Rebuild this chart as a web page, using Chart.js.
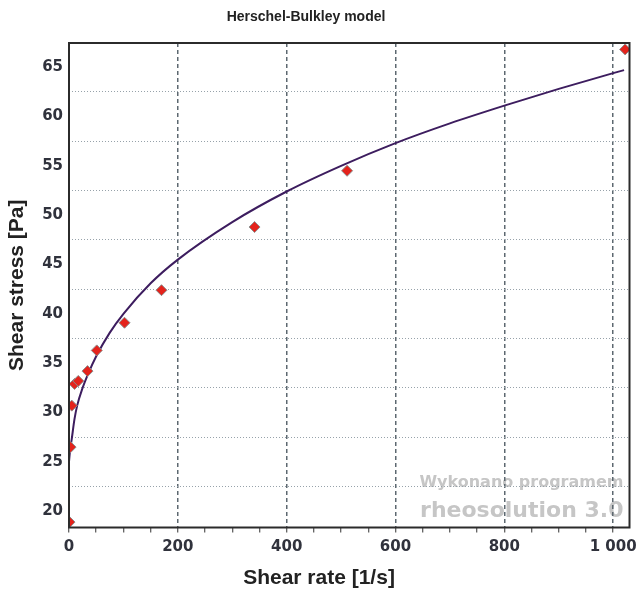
<!DOCTYPE html>
<html lang="en">
<head>
<meta charset="UTF-8">
<title>Herschel-Bulkley model</title>
<script src="https://cdn.jsdelivr.net/npm/chart.js@4.4.0/dist/chart.umd.min.js"></script>
<style>
  body { margin: 0; background: #fff; }
  #wrap { width: 636px; height: 591px; }
</style>
</head>
<body>
<div id="wrap"><canvas id="hbChart" width="636" height="591"></canvas></div>
<script>
// measured points: shear rate [1/s] vs shear stress [Pa]
const shearRate   = [1, 3, 5.1, 10.2, 17, 34, 51, 102, 170, 341, 511, 1022];
const shearStress = [18.9, 26.5, 30.7, 32.9, 33.2, 34.2, 36.3, 39.1, 42.4, 48.8, 54.5, 66.8];

// fitted Herschel-Bulkley curve
const modelRate   = [0, 2, 5, 10, 15, 25, 35, 50, 75, 100, 150, 200, 300, 400, 500, 600, 700, 800, 900, 1000, 1020];
const modelStress = [25.0, 26.2, 27.3, 29.3, 30.7, 32.5, 33.9, 35.7, 38.1, 40.0, 43.1, 45.5, 49.3, 52.4, 55.0, 57.3, 59.3, 61.1, 62.8, 64.4, 64.7];

const xTicks = [0, 200, 400, 600, 800, 1000];
const yTicks = [20, 25, 30, 35, 40, 45, 50, 55, 60, 65];

const labelColor = '#30323c';
const tickFont = { family: '"DejaVu Sans", Verdana, sans-serif', size: 15, weight: 'bold' };

// minor x ticks every 50, dotted y grid half way between labels
const xMinor = [];
for (let v = xTicks[0]; v <= xTicks[xTicks.length - 1]; v += 50) xMinor.push(v);
const yAll = yTicks.concat(yTicks.slice(0, -1).map(v => v + 2.5));

const fmtThousands = v => String(v).replace(/\B(?=(\d{3})+(?!\d))/g, ' ');

const decorations = {
    id: 'decorations',
    beforeDraw(chart) {
        const ctx = chart.ctx;
        const a = chart.chartArea;
        ctx.save();
        ctx.fillStyle = '#c6c6c6';
        ctx.textAlign = 'right';
        ctx.textBaseline = 'alphabetic';
        ctx.font = 'bold 16px "DejaVu Sans", sans-serif';
        ctx.fillText('Wykonano programem', a.right - 6, 487);
        ctx.font = 'bold 22px "DejaVu Sans", sans-serif';
        ctx.fillText('rheosolution 3.0', a.right - 6, 517);
        ctx.restore();
    },
    afterDraw(chart) {
        const ctx = chart.ctx;
        const a = chart.chartArea;
        ctx.save();
        // plot frame
        ctx.strokeStyle = '#2b2b2b';
        ctx.lineWidth = 2;
        ctx.strokeRect(a.left, a.top, a.right - a.left, a.bottom - a.top);

        ctx.fillStyle = '#222';
        ctx.textAlign = 'center';
        ctx.textBaseline = 'middle';
        ctx.font = 'bold 14px "Liberation Sans", Arial, sans-serif';
        ctx.fillText('Herschel-Bulkley model', 306, 17);

        ctx.font = 'bold 21px "Liberation Sans", Arial, sans-serif';
        ctx.fillText('Shear rate [1/s]', 319, 578);

        ctx.translate(17, (a.top + a.bottom) / 2);
        ctx.rotate(-Math.PI / 2);
        ctx.fillText('Shear stress [Pa]', 0, 0);
        ctx.restore();
    }
};

new Chart(document.getElementById('hbChart'), {
    type: 'line',
    data: {
        datasets: [
            {
                label: 'Herschel-Bulkley',
                data: modelRate.map((x, i) => ({ x, y: modelStress[i] })),
                borderColor: '#3d1d5f',
                borderWidth: 2,
                pointRadius: 0,
                cubicInterpolationMode: 'monotone',
                order: 2
            },
            {
                label: 'Measured',
                data: shearRate.map((x, i) => ({ x, y: shearStress[i] })),
                showLine: false,
                pointStyle: 'rectRot',
                pointRadius: 5.5,
                backgroundColor: '#e4231c',
                borderColor: '#8c8c8c',
                borderWidth: 1,
                order: 1
            }
        ]
    },
    options: {
        responsive: false,
        animation: false,
        layout: { padding: { top: 43, right: 5, left: 0, bottom: 0 } },
        plugins: { legend: { display: false }, tooltip: { enabled: false }, title: { display: false } },
        scales: {
            x: {
                type: 'linear',
                min: 0,
                max: 1030,
                afterBuildTicks: s => { s.ticks = xMinor.map(v => ({ value: v })); },
                afterFit: s => { s.height = 63.5; s.paddingLeft = 0; s.paddingRight = 0; },
                border: { display: false, dash: [4, 3] },
                grid: {
                    color: c => (c.tick && c.tick.value > 0 && xTicks.includes(c.tick.value)) ? '#5d6870' : 'rgba(0,0,0,0)',
                    lineWidth: 1.5,
                    drawTicks: true,
                    tickLength: 5,
                    tickColor: '#333',
                    tickWidth: 1
                },
                ticks: {
                    autoSkip: false,
                    maxRotation: 0,
                    padding: 6,
                    color: labelColor,
                    font: tickFont,
                    callback: v => xTicks.includes(v) ? fmtThousands(v) : ''
                }
            },
            y: {
                min: 18.35,
                max: 67.45,
                afterBuildTicks: s => { s.ticks = yAll.map(v => ({ value: v })); },
                afterFit: s => { s.width = 69; s.paddingTop = 0; s.paddingBottom = 0; },
                border: { display: false, dash: [1, 2] },
                grid: {
                    color: c => (c.tick && !yTicks.includes(c.tick.value)) ? '#97a2aa' : 'rgba(0,0,0,0)',
                    lineWidth: 1,
                    drawTicks: false
                },
                ticks: {
                    padding: 6,
                    color: labelColor,
                    font: tickFont,
                    callback: v => yTicks.includes(v) ? String(v) : ''
                }
            }
        }
    },
    plugins: [decorations]
});
</script>
</body>
</html>
